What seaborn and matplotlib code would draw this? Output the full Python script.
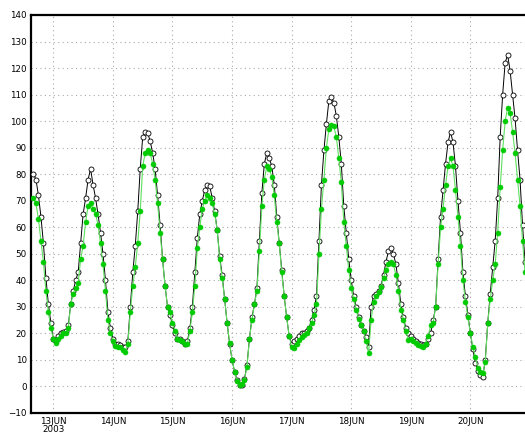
import matplotlib
matplotlib.use("Agg")
import matplotlib.pyplot as plt
import numpy as np
import pandas as pd
import seaborn as sns

# Hourly values, one list per calendar day (12 Jun starts at 16:00, 20 Jun ends at 22:00)
obs_jun12 = [80, 78, 72, 64, 54, 41, 31, 24]
obs_jun13 = [18, 17, 19, 20, 20.5, 21, 23, 31, 36, 40, 43, 54,
             65, 71, 78, 82, 76, 71, 65, 58, 50, 40, 28, 22]
obs_jun14 = [18, 16, 16, 15.5, 15, 15, 17, 30, 43, 53, 66, 82,
             94, 96, 95.6, 92.5, 88, 82, 72, 61, 48, 38, 30, 27]
obs_jun15 = [23, 20, 18, 18, 17, 16, 17, 22, 30, 43, 56, 65,
             70, 74, 76, 75.5, 71, 66, 59, 49, 42, 33, 24, 16]
obs_jun16 = [10, 5.6, 2.5, 0.6, 0.6, 3, 8, 18, 26, 31, 37, 55,
             73, 84, 88, 86, 83, 76, 64, 54, 44, 34, 26, 19]
obs_jun17 = [16, 17, 18, 19, 20, 20, 21, 22, 25, 29, 34, 55,
             76, 89, 99, 107.7, 109, 107, 102, 94, 84, 68, 58, 48]
obs_jun18 = [40, 34, 30, 26, 23, 21, 18.5, 15, 30, 34, 35, 36,
             38, 42, 47, 51, 52, 50, 46, 39, 31, 26, 22, 20]
obs_jun19 = [19, 18, 17, 16.5, 16, 15.5, 16, 18, 20, 25, 30, 48,
             64, 74, 84, 92, 96, 92, 83, 70, 58, 43, 34, 27]
obs_jun20 = [20, 14, 9, 6, 4.5, 3.7, 10, 24, 35, 45, 55, 71,
             94, 110, 122, 125, 119, 110, 101, 89, 78, 61, 47]

fc_jun12 = [71, 69, 63, 55, 47, 36, 28, 22]
fc_jun13 = [18, 16.5, 18, 19, 20, 20, 22, 31, 35, 37, 39, 48,
            53, 62, 68, 69, 67, 65, 61, 54, 46, 36, 25, 20]
fc_jun14 = [17.3, 15.3, 15, 14.7, 13.7, 13.1, 16, 28, 38, 45, 54, 66,
            83, 88, 89, 88, 84, 78, 69, 58, 48, 38, 30, 28]
fc_jun15 = [24, 21, 18, 17.5, 17, 16, 16, 21, 28, 38, 52, 60,
            67, 70, 72, 71, 69, 65, 59, 48, 41, 33, 24, 16.5]
fc_jun16 = [10, 5.6, 2, 0.6, 1, 2.5, 7.5, 18, 25, 31, 36, 51,
            68, 78, 83, 82, 79, 72, 62, 54, 43, 34, 26, 19]
fc_jun17 = [15, 14.5, 16, 17.5, 18.5, 19.5, 20, 22, 24, 27, 31, 50,
            67, 78, 90, 97, 98.6, 98, 94, 86, 77, 62, 53, 44]
fc_jun18 = [37, 33, 29, 25.4, 23, 21, 17, 12.7, 25, 32, 34, 35.5,
            37.5, 41, 44, 46, 47, 46, 42, 36, 29, 25, 21, 17.5]
fc_jun19 = [18, 17, 16.3, 15.6, 15.2, 15, 16, 19, 23, 24, 30, 46,
            60, 67, 76, 83, 86, 83, 74, 64, 53, 40, 32, 26]
fc_jun20 = [20, 15, 11, 7, 5.6, 5, 9.3, 24, 33, 40, 46, 58,
            75, 89, 100, 105, 103, 96, 88, 78, 68, 55, 43]

y_ticks = list(range(-10, 141, 10))
day_ticks = ["2003-06-13", "2003-06-14", "2003-06-15", "2003-06-16",
             "2003-06-17", "2003-06-18", "2003-06-19", "2003-06-20"]
day_labels = ["13JUN\n2003", "14JUN", "15JUN", "16JUN",
              "17JUN", "18JUN", "19JUN", "20JUN"]

obs = (obs_jun12 + obs_jun13 + obs_jun14 + obs_jun15 + obs_jun16
       + obs_jun17 + obs_jun18 + obs_jun19 + obs_jun20)
fc = (fc_jun12 + fc_jun13 + fc_jun14 + fc_jun15 + fc_jun16
      + fc_jun17 + fc_jun18 + fc_jun19 + fc_jun20)
times = pd.date_range("2003-06-12 16:00", periods=len(obs), freq="h")
df = pd.DataFrame({"time": times, "obs": obs, "fc": fc})

sns.set_theme(style="white")
plt.rcParams["font.family"] = ["DejaVu Sans"]

fig = plt.figure(figsize=(5.25, 4.34), dpi=100)
ax = fig.add_axes([31 / 525, 21 / 434, 493.5 / 525, 398 / 434])

sns.lineplot(data=df, x="time", y="obs", ax=ax, color="black",
             linewidth=0.7, marker="o", markersize=3.6,
             markerfacecolor="white", markeredgecolor="black",
             markeredgewidth=0.6, zorder=3)
sns.lineplot(data=df, x="time", y="fc", ax=ax, color="#5ee05e",
             linewidth=0.8, marker="o", markersize=3.6,
             markerfacecolor="#00cc00", markeredgecolor="#00cc00",
             markeredgewidth=0.4, zorder=4)

ax.set_ylim(-10, 140)
ax.set_xlim(pd.Timestamp("2003-06-12 15:00"), pd.Timestamp("2003-06-20 21:48"))
ax.set_yticks(y_ticks)
ax.set_yticklabels([str(v).replace("-", "\u2212") for v in y_ticks])
ax.set_xticks([pd.Timestamp(d) for d in day_ticks])
ax.set_xticklabels(day_labels, linespacing=0.9)
ax.set_xlabel("")
ax.set_ylabel("")

ax.grid(True, color="#aaaaaa", linestyle=(0, (1, 3)), linewidth=0.8)
ax.tick_params(axis="both", labelsize=6.3, length=0, pad=3, colors="black")

for side in ["left", "bottom", "top"]:
    ax.spines[side].set_visible(True)
    ax.spines[side].set_color("black")
    ax.spines[side].set_linewidth(1.6)
ax.spines["right"].set_visible(False)

fig.savefig("out.png", dpi=100, facecolor="white")
